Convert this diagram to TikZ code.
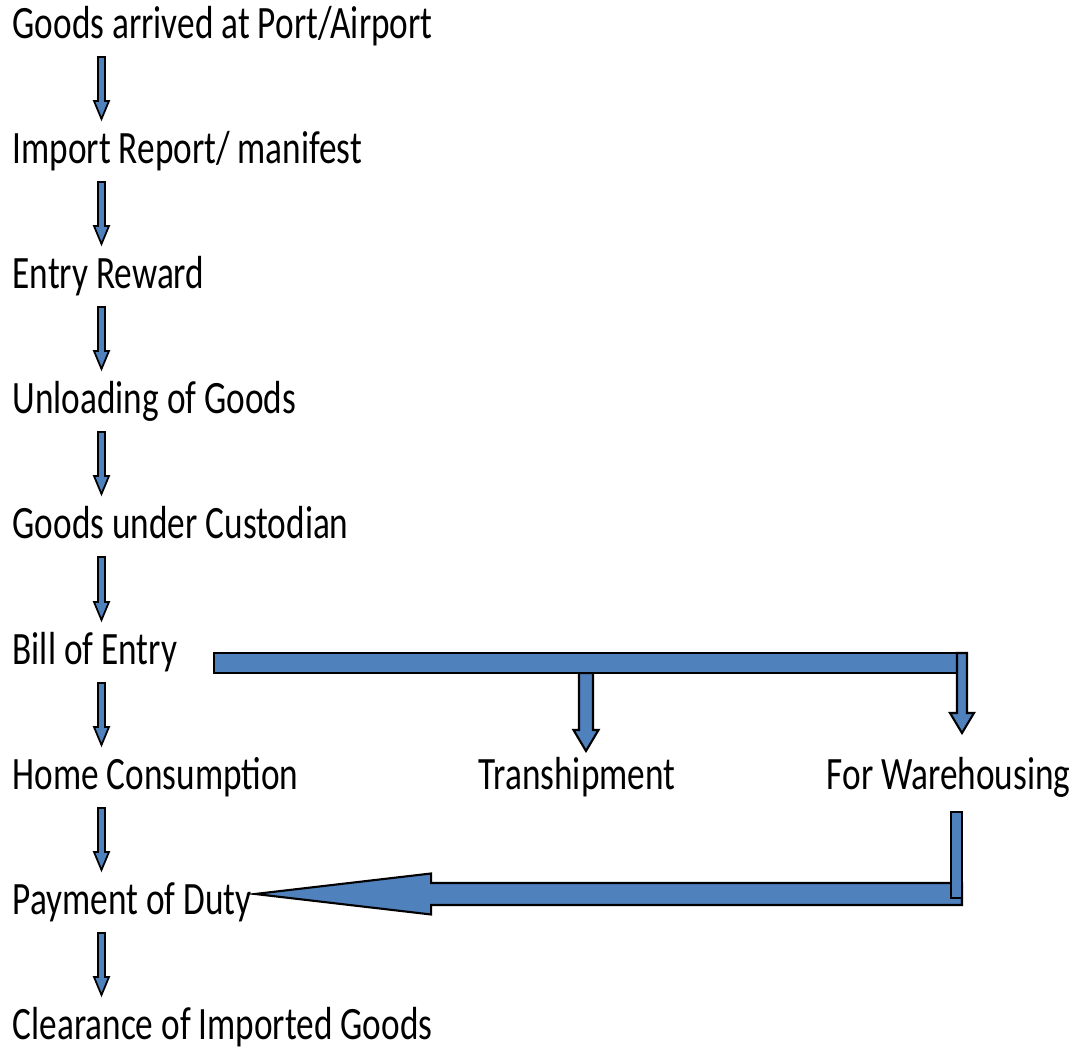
\documentclass[tikz,border=0pt]{standalone}
\usepackage{fontspec}
\newfontfamily\flowfont[FakeStretch=0.76]{Carlito}
\usepackage{tikz}
\usetikzlibrary{calc,positioning}
\definecolor{officeblue}{HTML}{4F81BD}
\tikzset{
    stage/.style={anchor=base west, inner sep=0pt, font=\flowfont\fontsize{13.2}{16}\selectfont},
    blockarrow/.style={draw=black, fill=officeblue, line width=0.6pt, line join=miter},
    smallarrow/.style={blockarrow, line width=0.5pt}
}
% block arrow pointing down: style, top, tip, shaft half width, head half width, head length
\newcommand{\downblock}[6]{%
  \draw[#1] let \p1=(#2), \p2=(#3) in
    (\x1-#4,\y1) -- (\x1+#4,\y1) -- (\x1+#4,\y2+#6) -- (\x1+#5,\y2+#6)
    -- (\x1,\y2) -- (\x1-#5,\y2+#6) -- (\x1-#4,\y2+#6) -- cycle;}
\newcommand{\stepdown}[2]{%
  \downblock{smallarrow}{$(#1.base west)+(0.895,-0.18)$}{$(#2.base west)+(0.895,0.45)$}{0.035cm}{0.075cm}{0.18cm}}

\begin{document}
\begin{tikzpicture}
    \useasboundingbox (0,0) rectangle (10.76,-10.49);

    \node[stage] (arrived) at (0.12,-0.39) {Goods arrived at Port/Airport};
    \node[stage] (report) at (0.12,-1.64) {Import Report/ manifest};
    \node[stage] (reward) at (0.12,-2.89) {Entry Reward};
    \node[stage] (unload) at (0.12,-4.14) {Unloading of Goods};
    \node[stage] (custody) at (0.12,-5.39) {Goods under Custodian};
    \node[stage] (bill) at (0.12,-6.65) {Bill of Entry};
    \node[stage] (home) at (0.12,-7.90) {Home Consumption};
    \node[stage] (tranship) at (4.78,-7.90) {Transhipment};
    \node[stage] (warehouse) at (8.26,-7.90) {For Warehousing};
    \node[stage] (duty) at (0.12,-9.15) {Payment of Duty};
    \node[stage] (clear) at (0.12,-10.40) {Clearance of Imported Goods};

    % main chain
    \stepdown{arrived}{report}
    \stepdown{report}{reward}
    \stepdown{reward}{unload}
    \stepdown{unload}{custody}
    \stepdown{custody}{bill}
    \stepdown{bill}{home}
    \stepdown{home}{duty}
    \stepdown{duty}{clear}

    % branch from bill of entry
    \coordinate (barL) at ($(bill.base east)+(0.36,0.12)$);
    \coordinate (barR) at ($(warehouse.base west)+(1.36,1.17)$);
    \downblock{blockarrow}{$(tranship.base west)+(1.08,1.17)$}{$(tranship.base west)+(1.08,0.39)$}{0.07cm}{0.125cm}{0.21cm}
    \draw[blockarrow] (barL) rectangle (barR);
    \downblock{blockarrow}{$(warehouse.base west)+(1.36,1.37)$}{$(warehouse.base west)+(1.36,0.57)$}{0.05cm}{0.12cm}{0.20cm}

    % warehousing back to duty
    \draw[blockarrow] let \p1=($(warehouse.base west)+(1.36,0)$), \p2=($(duty.base east)+(0.03,0.21)$) in
        (\x1,\y2+0.11cm) -- (\x2+1.76cm,\y2+0.11cm) -- (\x2+1.76cm,\y2+0.205cm) -- (\x2,\y2)
        -- (\x2+1.76cm,\y2-0.205cm) -- (\x2+1.76cm,\y2-0.11cm) -- (\x1,\y2-0.11cm) -- cycle;
    \draw[blockarrow] ($(warehouse.base west)+(1.25,-0.22)$) rectangle ($(warehouse.base west)+(1.36,-1.08)$);
\end{tikzpicture}
\end{document}
